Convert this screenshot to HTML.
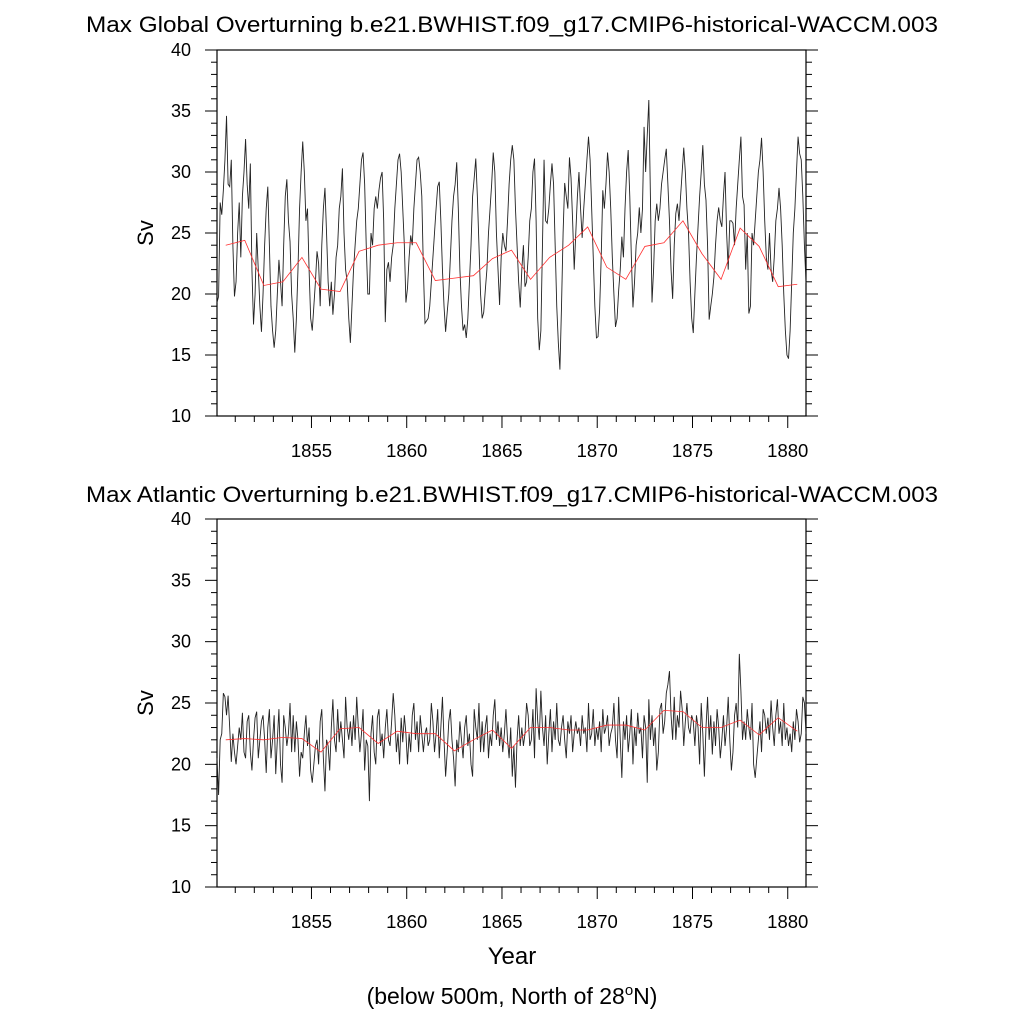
<!DOCTYPE html>
<html><head><meta charset="utf-8">
<style>
html,body{margin:0;padding:0;background:#fff;}
svg{display:block;font-family:"Liberation Sans",sans-serif;}
</style></head>
<body>
<svg id="chart" width="1024" height="1024" viewBox="0 0 1024 1024"></svg>
<script>
const yTicks = [10, 15, 20, 25, 30, 35, 40];
const xTicks = [1855, 1860, 1865, 1870, 1875, 1880];
const years = [1850,1851,1852,1853,1854,1855,1856,1857,1858,1859,1860,1861,1862,1863,1864,1865,1866,1867,1868,1869,1870,1871,1872,1873,1874,1875,1876,1877,1878,1879,1880];
const globalAnnual = [24.0,24.4,20.7,21.0,23.0,20.4,20.2,23.5,24.0,24.2,24.2,21.1,21.3,21.5,22.9,23.6,21.2,23.0,24.0,25.5,22.2,21.2,23.9,24.2,26.0,23.3,21.2,25.4,23.9,20.6,20.8];
const atlanticAnnual = [22.0,22.1,22.0,22.2,22.1,21.0,22.9,23.0,21.7,22.7,22.5,22.5,21.1,22.0,22.8,21.3,23.0,23.0,22.8,22.8,23.2,23.2,22.8,24.4,24.3,23.0,23.0,23.6,22.4,23.8,22.7];
const globalMonthly = [
19.3,19.8,27.5,26.5,28.5,31,34.6,29,28.8,31,24,19.8,
21,25,27.5,23,28,30,32.7,29,27,30.7,22,17.5,
20,25,22,19,16.9,20,24,27,28.8,24,19,17,
15.6,17,20,22.8,21,19,24,28,29.4,26,24.3,20,
18,15.2,18,22,27,30,32.5,30,26,27,22,18,
17,19,21,23.5,22.5,19,24,27,28.7,25,21,19,
21,18.3,20,23,24,27,28,30.3,25,22,21,18,
16,19,22,24,26,27,29,31,31.6,29,24,20,
20,25,24,27,28,27,28.5,29.5,30,26,17.7,22,
22.6,21,23,24,27,29,31,31.5,30,27,24,19.3,
20.5,23,24.8,24,27,29,31,31.2,30,28,22,17.6,
17.8,18,19,21,23,25,27,28.8,29.2,26,22,19,
16.9,18.5,20,23,26,28,29,30.8,27,22,19,17,
17.5,16.4,18,21,24,28,29.5,31.1,28,24,20,18,
18.5,20.3,22,25,27,29,31.6,30,25,22,19.1,23,
25,24,23.5,26,29,31,32.2,31,27,24,21,18.9,
22,24,20.6,21,23,26,27,30,31.1,26,18,15.4,
17,24,31,26,25.8,27,29,30.7,29,24,19,16,
13.8,19,25,29.1,28,27,31.2,29.5,26,22,25,28,
30,27,24.6,27,29,31,32.9,31,27,23,19,16.4,
16.5,18.7,23,28.5,27,29,31.6,30,27,23,20,17.3,
18,20.3,22,24.7,23,27,30,31.8,28,23,18.9,21,
24,25,27.1,25,27,33.7,30,33,35.9,28,19.3,22,
26,27.4,26,27,29,30,31,31.9,29,26,22,19.6,
24,26.6,27.4,26,28,30,32,30,27,25,21,18,
16.8,20,23,25.5,28,30,32.2,29,27.7,24,17.9,19,
20,21.4,24,26,27.1,26,25.5,28,30,25,22,26,
26,25.8,24,27,29,31,32.9,28,27.3,22,25,18.4,
19,25,24,26,28,30,31,32.8,30,26,23,22,
25,22,21,23,26,27,28.7,27,24,20,17,15,
14.7,17,21,25,27,30,32.9,31.5,31,28,24,20.9];
const atlanticMonthly = [
20.5,17.5,22,22.5,25.8,25.5,24,25.6,23,20.2,22.5,21,
20,21.5,23,22,24.2,21,20.5,23.5,24,21,19.5,22,
23.8,24.3,20.5,22,23.5,24,22,19.3,23,24.5,20.5,22,
24,19.2,22,24.5,20,18.5,24,23,21.5,22.5,25,21,
24,21,23.5,22,19,21,20.5,22.5,24,21.5,23,19.5,
18.5,20,21.5,22,20,23.5,24.5,20.5,17.8,22,21.5,19.5,
23,25.3,22,21,24.5,21.8,23.5,22,20.5,25.5,23,22,
23.5,21.5,24,22,25.5,23,21,22.5,24.5,19.5,22,21.5,
17,22.5,24,21,20,23.8,24.5,21.5,22.5,20.5,23,24.5,
22,21.5,23.5,25.8,24,21,22.5,20,23.8,21.8,24,22.5,
20,22.5,21,24,25,22,23.5,21,24,22.5,21,22.5,
23,21.5,22,25,23.5,21,22.5,24.5,20.5,23,25.5,22,
19,21,23.5,24.5,22,20.5,18.2,22,21,23.5,22,20.5,
23,24,21.5,22.5,20,19,24.5,23,22,25,21,23.5,
21,23,24,20.5,22.5,21.5,24,25.3,22,23.5,21.5,23,
21,22.5,24.5,22,20.5,23,19,21.5,18.1,22,24,21.5,
23,21.5,22.5,25,24,21.5,22,24.5,20.5,26.2,23.5,22,
26,23,21.5,24,20,22.5,24.5,21,23.5,22,25,22,
21.5,23,24,22,20.5,23.5,22.5,24,21,22.5,23.5,22.5,
23,21.5,24,22.5,23,21,25,22,22.5,24.5,21.5,23,
22,23.5,21,24.5,22.5,23,24,21.5,22.5,23,25,22,
20.5,25.5,22,18.9,23.5,22,24,21,22.5,24.5,20,23,
21.5,24.2,22.5,23,20.5,24,23,18.5,25.3,22,24,21.5,
23,19.5,21,24.5,25,22.5,23.5,25.8,26.5,27.6,24,22,
25.5,22,24,23,26,24.5,21.5,23.5,25,23,22.5,24,
23.5,21.5,24,23,20,25,22.5,19,23,25.5,22,24,
20.8,23.5,21.5,24.5,23,20.5,22,24,21.5,23,25.5,22,
19.5,21,24,25,23,29,26,22,23.5,22,24.5,23,
22,25,20,18.9,20.5,22,23.5,21,24.5,24,22.5,23.8,
22,25.2,23,21.5,24,25.3,22.5,23.5,21.5,25,22,23,
21.5,22.5,21,23.5,22,24.5,23.5,21.8,22.5,25.5,25,22.5];

const NS = "http://www.w3.org/2000/svg";
const svg = document.getElementById('chart');
const X0 = 217, X1 = 806, T0 = 1850 + 0.5/12, T1 = 1880 + 11.5/12;
function xs(t){ return X0 + (t - T0) / (T1 - T0) * (X1 - X0); }
function mk(tag, attrs, parent){
  const e = document.createElementNS(NS, tag);
  for (const k in attrs) e.setAttribute(k, attrs[k]);
  (parent || svg).appendChild(e);
  return e;
}

function panel(top, bottom, title, monthly, annual, key, titleY, labelY){
  const g = mk('g', {});
  
  
  const ys = v => bottom - (v - 10) / 30 * (bottom - top);
  const t = mk('text', {x: 512, y: titleY, 'font-size': 22, 'text-anchor': 'middle', fill: '#000', textLength: 852, lengthAdjust: 'spacingAndGlyphs'}, g);
  t.textContent = title;
  
  
  const fr = mk('rect', {x: X0, y: top, width: X1 - X0, height: bottom - top, fill: 'none', stroke: '#000', 'stroke-width': 1.2}, g);
  
  
  for (let v = 10; v <= 40; v++){
    const major = v % 5 === 0;
    const L = major ? 12 : 6;
    mk('line', {x1: X0 - L, x2: X0, y1: ys(v), y2: ys(v), stroke: '#000', 'stroke-width': 1}, g);
    mk('line', {x1: X1, x2: X1 + L, y1: ys(v), y2: ys(v), stroke: '#000', 'stroke-width': 1}, g);
  }
  yTicks.forEach(v => {
    const tl = mk('text', {x: 191, y: ys(v) + 6, 'font-size': 18, 'text-anchor': 'end', fill: '#000'}, g);
    tl.textContent = v;
    
    
  });
  for (let yr = 1851; yr <= 1880; yr++){
    const major = yr % 5 === 0;
    const L = major ? 12 : 6;
    mk('line', {x1: xs(yr), x2: xs(yr), y1: bottom, y2: bottom + L, stroke: '#000', 'stroke-width': 1}, g);
  }
  xTicks.forEach(v => {
    const tl = mk('text', {x: xs(v), y: bottom + 41, 'font-size': 18.5, 'text-anchor': 'middle', fill: '#000'}, g);
    tl.textContent = v;
    
    
  });
  const yl = mk('text', {x: 0, y: 0, 'font-size': 22, 'text-anchor': 'middle', fill: '#000', transform: 'translate(153,' + labelY + ') rotate(-90)'}, g);
  yl.textContent = 'Sv';
  
  
  let d = '';
  monthly.forEach((v, i) => {
    const tt = 1850 + (i + 0.5) / 12;
    d += (i ? 'L' : 'M') + xs(tt).toFixed(2) + ',' + ys(v).toFixed(2);
  });
  const ml = mk('path', {d: d, fill: 'none', stroke: '#222', 'stroke-width': 0.9}, g);
  
  
  let d2 = '';
  annual.forEach((v, i) => {
    d2 += (i ? 'L' : 'M') + xs(years[i] + 0.5).toFixed(2) + ',' + ys(v).toFixed(2);
  });
  const al = mk('path', {d: d2, fill: 'none', stroke: '#ff3030', 'stroke-width': 0.8}, g);
  
  
}

panel(50, 416, 'Max Global Overturning b.e21.BWHIST.f09_g17.CMIP6-historical-WACCM.003', globalMonthly, globalAnnual, 'global', 32, 233);
panel(519, 887, 'Max Atlantic Overturning b.e21.BWHIST.f09_g17.CMIP6-historical-WACCM.003', atlanticMonthly, atlanticAnnual, 'atlantic', 502, 703);

const xt = mk('text', {x: 512, y: 964, 'font-size': 24, 'text-anchor': 'middle', fill: '#000'});
xt.textContent = 'Year';


const nt = mk('text', {x: 512, y: 1004, 'font-size': 23, 'text-anchor': 'middle', fill: '#000'});
nt.innerHTML = '(below 500m, North of 28<tspan dy="-9" font-size="15">o</tspan><tspan dy="9">N)</tspan>';


</script>
</body></html>
